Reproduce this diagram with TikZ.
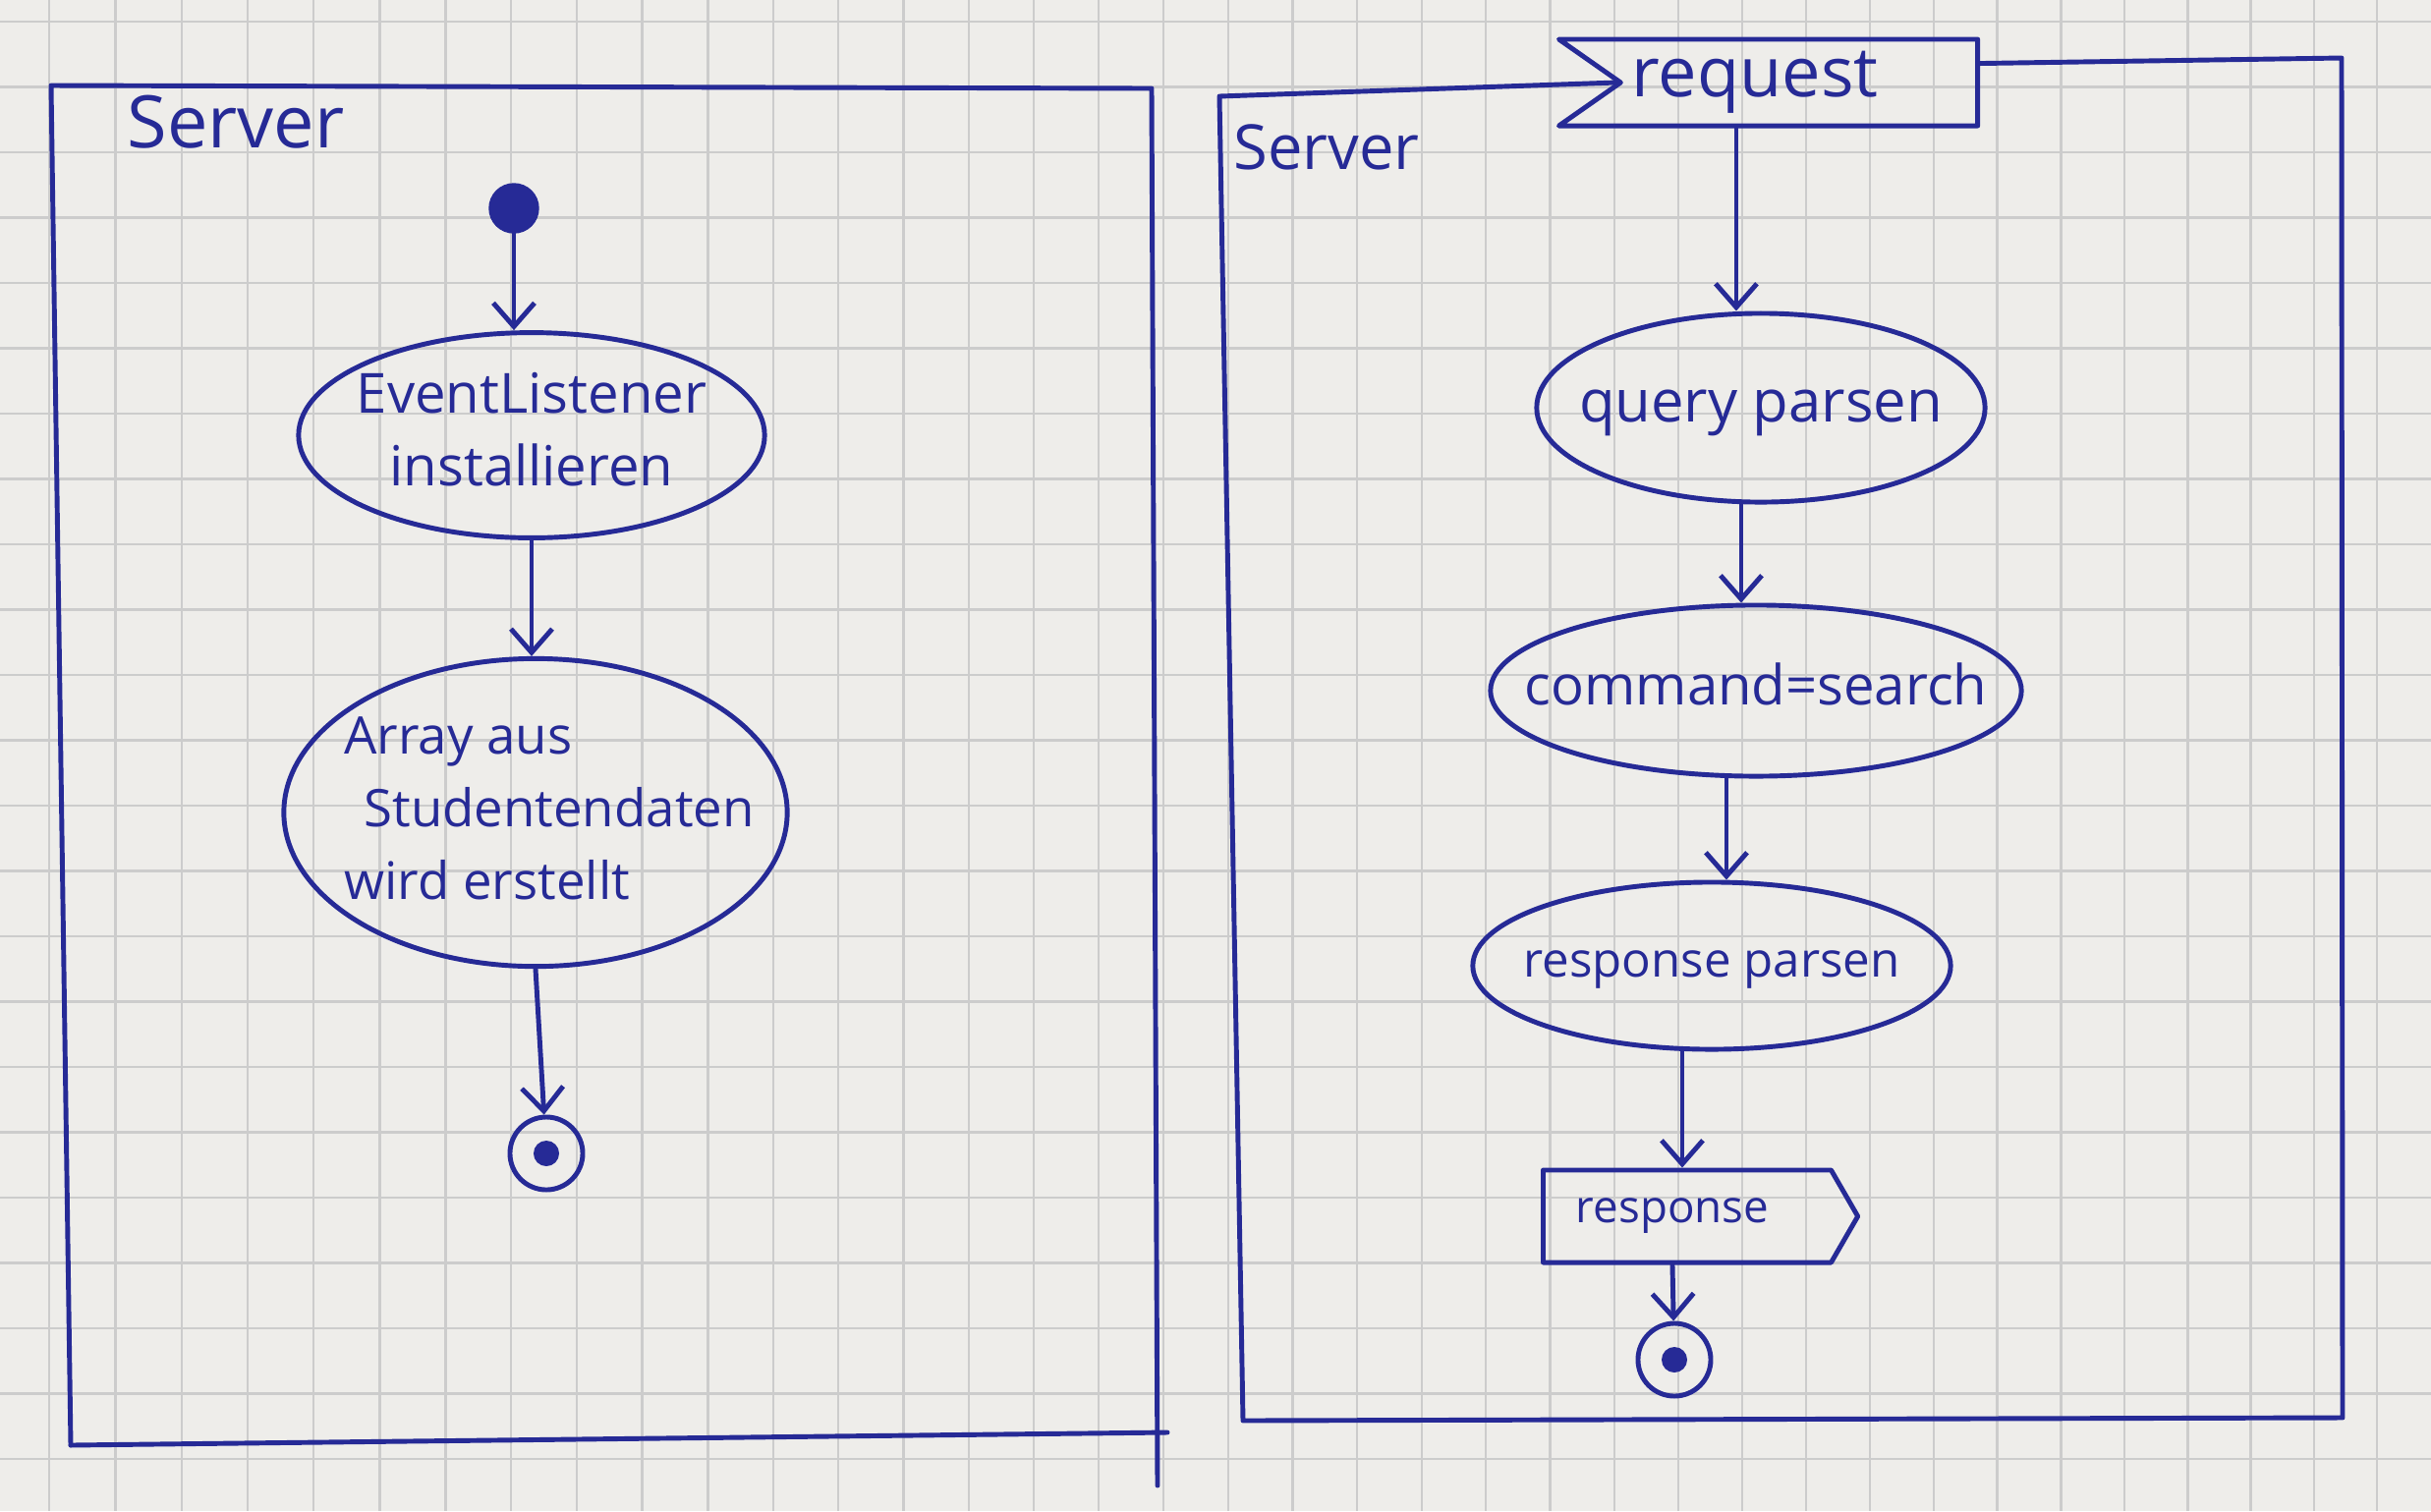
\documentclass[tikz,border=0pt]{standalone}
\usepackage{fontspec}
\setmainfont{Open Sans}
\usetikzlibrary{arrows.meta,shapes.symbols,shapes.geometric}
\definecolor{ink}{RGB}{38,42,150}
\definecolor{paper}{RGB}{238,237,234}
\definecolor{gridc}{RGB}{204,204,204}
% text of fixed-size shapes: takes no width, so the outline keeps its given size
\newcommand\boxtext[2][c]{\makebox[0pt]{\begin{tabular}{@{}#1@{}}#2\end{tabular}}}
\begin{document}
\begin{tikzpicture}[x=0.01cm,y=-0.01cm,
  pen/.style={draw=ink,line width=1.4pt,line join=round,line cap=round},
  flow/.style={pen,-{Straight Barb[length=0.24cm,width=0.42cm,line width=1.4pt]}},
  action/.style={ellipse,pen,text=ink,inner sep=0pt,
    font=\fontsize{16}{21}\selectfont},
  lanelabel/.style={text=ink,inner sep=0pt},
  initial/.style={circle,fill=ink,draw=ink,minimum size=0.5cm,inner sep=0pt},
  final/.style={circle,pen,minimum size=0.74cm,inner sep=0pt,
    path picture={\fill[ink] (path picture bounding box.center) circle (0.13cm);}},
  recvsig/.style={signal,signal from=west,signal to=nowhere,signal pointer angle=70,
    pen,text=ink,inner sep=0pt,font=\fontsize{20}{24}\selectfont},
  sendsig/.style={signal,signal to=east,signal from=nowhere,signal pointer angle=120,
    pen,text=ink,inner sep=0pt,font=\fontsize{13}{16}\selectfont}
]
\useasboundingbox (0,0) rectangle (2474,1538);
% squared paper
\fill[paper] (0,0) rectangle (2474,1538);
\foreach \k in {0,...,37}
  \draw[gridc,line width=0.7pt] ({50+67.5*\k-0.047*\k*\k},0) -- ({50+67.5*\k-0.047*\k*\k},1538);
\foreach \j in {0,...,23}
  \draw[gridc,line width=0.7pt] (0,{22+66.5*\j}) -- (2474,{22+66.5*\j});

% ---------------- left partition: server start-up ----------------
\draw[pen] (72,1471) -- (52,87) -- (1172,90) -- (1178,1512);
\draw[pen] (72,1471) -- (1188,1458);
\node[lanelabel,font=\fontsize{21}{24}\selectfont] (lblA) at (240,124) {Server};

\node[initial] (start) at (523,212) {};
\node[action,minimum width=4.74cm,minimum height=1.92cm] (listen) at (541,443)
  {\boxtext{EventListener\\installieren}};
\node[action,minimum width=5.12cm,minimum height=2.96cm,font=\fontsize{15}{21}\selectfont]
  (array) at (545,827)
  {\hspace*{0.28cm}\boxtext[l]{Array aus\\\hspace*{0.2cm}Studentendaten\\wird erstellt}};
\node[final] (endA) at (556,1174) {};

\draw[flow] (start) -- (start |- listen.north);
\draw[flow] (listen.south) -- (listen.south |- array.north);
\draw[flow] (array.south) -- (endA);

% ---------------- right partition: request handling ----------------
\node[recvsig,minimum width=4.26cm,minimum height=0.88cm] (request) at (1831,84)
  {request\hspace*{0.9cm}};
\node[lanelabel,font=\fontsize{18}{22}\selectfont] (lblB) at (1350,150) {Server};

\node[action,minimum width=4.56cm,minimum height=1.92cm,font=\fontsize{17}{21}\selectfont]
  (query) at (1792,415) {\boxtext{query parsen}};
\node[action,minimum width=5.4cm,minimum height=1.74cm] (command) at (1787,703)
  {\boxtext{command=search}};
\node[action,minimum width=4.86cm,minimum height=1.7cm,font=\fontsize{14}{17}\selectfont]
  (parse) at (1742,983) {\boxtext{response parsen}};
\node[sendsig,minimum width=3.2cm,minimum height=0.94cm] (response) at (1717,1238)
  {response\hspace*{0.3cm}};
\node[final] (endB) at (1704,1384) {};

% frame of the partition, attached to the incoming request
\draw[pen] (request.west) -- (1241,98) -- (1265,1446) -- (2384,1443) -- (2383,59)
  -- ([yshift=-0.27cm]request.north east);

\draw[flow] ([xshift=-0.64cm]request.south) -- ([xshift=-0.64cm]request.south |- query.north);
\draw[flow] ([xshift=-0.2cm]query.south) -- ([xshift=-0.2cm]query.south |- command.north);
\draw[flow] ([xshift=-0.3cm]command.south) -- ([xshift=-0.3cm]command.south |- parse.north);
\draw[flow] ([xshift=-0.3cm]parse.south) -- ([xshift=-0.3cm]parse.south |- response.north);
\draw[flow] ([xshift=-0.15cm]response.south) -- (endB);
\end{tikzpicture}
\end{document}
